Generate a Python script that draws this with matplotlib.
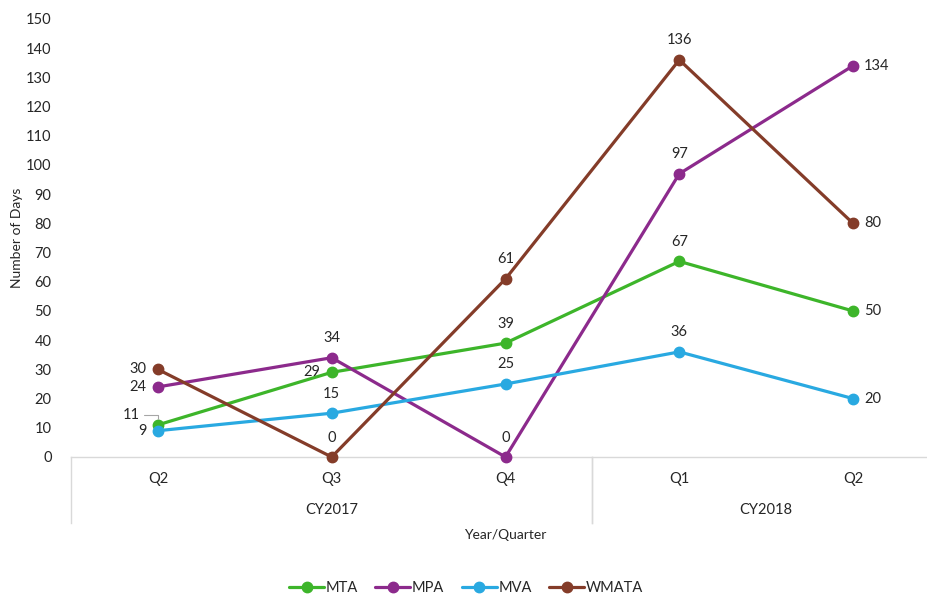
import matplotlib.pyplot as plt
from matplotlib.lines import Line2D

quarters = ["Q2", "Q3", "Q4", "Q1", "Q2"]
years = ["CY2017", "CY2018"]
year_spans = [(0, 3), (3, 5)]  # index ranges of quarters per year

mta = [11, 29, 39, 67, 50]
mpa = [24, 34, 0, 97, 134]
mva = [9, 15, 25, 36, 20]
wmata = [30, 0, 61, 136, 80]

# label placement per point: "l" left, "t" top, "r" right
mta_pos = ["l", "l", "t", "t", "r"]
mpa_pos = ["l", "t", "t", "t", "r"]
mva_pos = ["l", "t", "t", "t", "r"]
wmata_pos = ["l", "t", "t", "t", "r"]

series = [
    ("MTA", mta, mta_pos, "#3DB52A"),
    ("MPA", mpa, mpa_pos, "#8C2A8C"),
    ("MVA", mva, mva_pos, "#29A9E1"),
    ("WMATA", wmata, wmata_pos, "#843C29"),
]

plt.rcParams["font.family"] = ["Lato", "DejaVu Sans"]
TXT = "#262626"
GRID = "#D9D9D9"

fig = plt.figure(figsize=(9.27, 5.97), dpi=100)
W, H = 927, 597
ax = fig.add_axes([71 / W, 1 - 457 / H, 869 / W, 438 / H])
ax.set_xlim(-0.5, 4.5)
ax.set_ylim(0, 150)
x = list(range(len(quarters)))

offsets = {"l": (-8, 0, "right", "center"),
           "t": (0, 9, "center", "bottom"),
           "r": (8, 0, "left", "center")}

for name, vals, pos, col in series:
    ax.plot(x, vals, color=col, lw=2.3, marker="o", ms=7.5, label=name,
            solid_capstyle="round", clip_on=False, zorder=3)
    for xi, v, p in zip(x, vals, pos):
        dx, dy, ha, va = offsets[p]
        if name == "MTA" and xi == 0:
            continue
        ax.annotate(str(v), (xi, v), xytext=(dx, dy), textcoords="offset points",
                    ha=ha, va=va, fontsize=10.5, color=TXT)

# small leader for the crowded first MTA label
ax.annotate(str(mta[0]), (0, mta[0]), xytext=(-13, 7), textcoords="offset points",
            ha="right", va="center", fontsize=10.5, color=TXT,
            arrowprops=dict(arrowstyle="-", color="#A6A6A6", lw=0.8,
                            shrinkA=1, shrinkB=4,
                            connectionstyle="angle,angleA=0,angleB=90,rad=0"))

ax.set_yticks(range(0, 151, 10))
ax.tick_params(axis="y", length=0, labelsize=10.5, labelcolor=TXT, pad=14)
ax.set_xticks([])
for s in ["top", "right", "left"]:
    ax.spines[s].set_visible(False)
ax.spines["bottom"].set_color(GRID)
ax.spines["bottom"].set_linewidth(1)
ax.set_ylabel("Number of Days", fontsize=10, color=TXT, labelpad=2)

# two-level category axis drawn in axes/data blend
tr = ax.get_xaxis_transform()
for xi, q in zip(x, quarters):
    ax.text(xi, -0.05, q, transform=tr, ha="center", va="center",
            fontsize=10.5, color=TXT)
for (a, b), yr in zip(year_spans, years):
    ax.text((a + b - 1) / 2, -0.12, yr, transform=tr, ha="center", va="center",
            fontsize=10.5, color=TXT)
    for edge in (a - 0.5, b - 0.5):
        ax.add_line(Line2D([edge, edge], [0, -0.15], transform=tr, color=GRID,
                           lw=1, clip_on=False))

fig.text(505 / W, 1 - 535 / H, "Year/Quarter", ha="center", va="center",
         fontsize=10, color=TXT)

leg = fig.legend(loc="center", bbox_to_anchor=(466 / W, 1 - 588 / H), ncol=4,
                 frameon=False, fontsize=10.5, handlelength=2.4,
                 columnspacing=1.2, handletextpad=0.1)
for t in leg.get_texts():
    t.set_color(TXT)

fig.savefig("out.png", dpi=100)
